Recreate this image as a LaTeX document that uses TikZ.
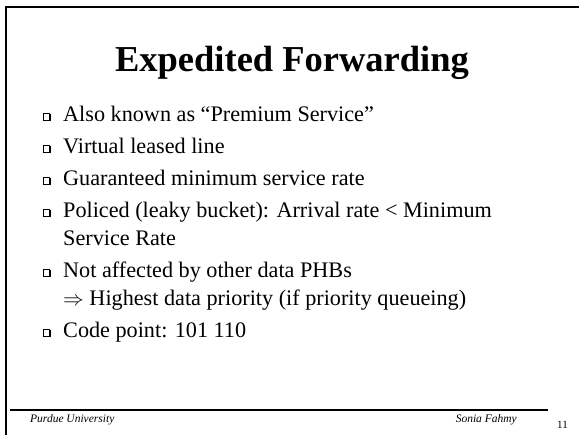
\documentclass[tikz,border=0pt]{standalone}
\usepackage{fontspec}
\setmainfont{Liberation Serif}
\begin{document}
\begin{tikzpicture}[x=1pt,y=-1pt,
  frameline/.style={line width=2pt,black},
  footline/.style={line width=1.2pt,black},
  titletext/.style={font=\fontsize{36.5}{40}\selectfont\bfseries,anchor=base,inner sep=0pt},
  itemtext/.style={font=\fontsize{22.2}{23}\selectfont,anchor=base west,inner sep=0pt},
  foottext/.style={font=\fontsize{11.5}{12}\selectfont\itshape,inner sep=0pt},
  sqbox/.pic={
    \fill[black] (1.4,-7.8) rectangle (8.4,-0.8);
    \filldraw[fill=white,draw=black,line width=0.7pt] (0,-8.8) rectangle (6.8,-2);
  }]
\useasboundingbox (0,0) rectangle (579,435);
% frame
\draw[frameline] (6,7) -- (579,7);
\draw[frameline] (6,6) -- (6,435);
\draw[footline] (10,410) -- (548,410);
% title
\node[titletext] (title) at (292,72) {Expedited Forwarding};
% items
\pic at (43,122) {sqbox};
\node[itemtext] (i1) at (63,122) {Also known as “Premium Service”};
\pic at (43,154) {sqbox};
\node[itemtext] (i2) at (63,154) {Virtual leased line};
\pic at (43,186) {sqbox};
\node[itemtext] (i3) at (63,186) {Guaranteed minimum service rate};
\pic at (43,218) {sqbox};
\node[itemtext] (i4) at (63,218) {Policed (leaky bucket): Arrival rate < Minimum};
\node[itemtext] (i4b) at (63,246) {Service Rate};
\pic at (43,278) {sqbox};
\node[itemtext] (i5) at (63,278) {Not affected by other data PHBs};
\node[itemtext] (i5b) at (63,306) {$\Rightarrow$ Highest data priority (if priority queueing)};
\pic at (43,338) {sqbox};
\node[itemtext] (i6) at (63,338) {Code point: 101 110};
% footer
\node[foottext,anchor=base west] (f1) at (30,423) {Purdue University};
\node[foottext,anchor=base east] (f2) at (517,423) {Sonia Fahmy};
\node[font=\fontsize{11}{12}\selectfont,anchor=base west,inner sep=0pt] (pg) at (557,429) {11};
\end{tikzpicture}
\end{document}
